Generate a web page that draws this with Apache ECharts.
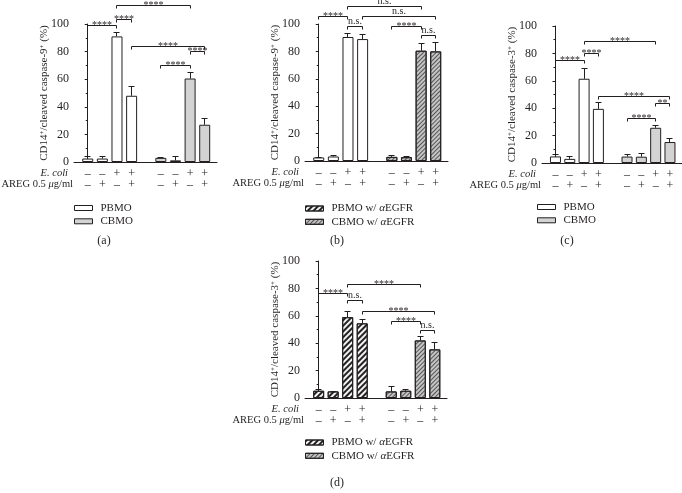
<!DOCTYPE html>
<html><head><meta charset="utf-8">
<script src="https://cdn.jsdelivr.net/npm/echarts@6/dist/echarts.min.js"></script>
<style>html,body{margin:0;padding:0;background:#fff}#c{width:682px;height:493px}</style>
</head><body><div id="c"></div>
<script>
// ---- tick labels under the x axis (9 slots, slot 4 is the gap between groups)
const ecoliSigns = ['–','–','+','+','','–','–','+','+'];
const aregSigns  = ['–','+','–','+','','–','+','–','+'];
const yTicks = [0, 20, 40, 60, 80, 100];
const barSlots = [0, 1, 2, 3, 5, 6, 7, 8];

// ---- panel (a): caspase-9, PBMO / CBMO
const aPBMO    = [2.5, 2.5, 91, 48];
const aPBMOErr = [1.8, 1.3, 3, 7];
const aCBMO    = [3, 1.2, 60.5, 27];
const aCBMOErr = [0.4, 2.5, 4.5, 4.5];
const aBrackets = [[0,2,98.8,'****'],[2,3,103.6,'****'],[2,6,113.3,'****'],[3,7,83.6,'****'],[4,6,69.8,'****'],[6,7,80,'****']];

// ---- panel (b): caspase-9, w/ anti-EGFR
const bPBMO    = [2.6, 3.3, 90.5, 89];
const bPBMOErr = [0.3, 0.4, 2.5, 3.5];
const bCBMO    = [3, 2.8, 80.5, 80];
const bCBMOErr = [0.8, 0.2, 5, 6.5];
const bBrackets = [[0,2,105.3,'****'],[2,6,113,'n.s.'],[2,3,98.5,'n.s.'],[3,7,105.3,'n.s.'],[4,6,98.5,'****'],[6,7,91.3,'n.s.']];

// ---- panel (c): caspase-3, PBMO / CBMO
const cPBMO    = [4.8, 3, 61.5, 39.5];
const cPBMOErr = [1.4, 1.4, 7.5, 5];
const cCBMO    = [4.7, 4.6, 25.7, 15.3];
const cCBMOErr = [1.4, 2.2, 2, 2.4];
const cBrackets = [[0,2,74.5,'****'],[2,3,80,'****'],[2,6,88.8,'****'],[3,7,48.5,'****'],[4,6,32.8,'****'],[6,7,43.2,'**']];

// ---- panel (d): caspase-3, w/ anti-EGFR
const dPBMO    = [5.3, 4.8, 59, 54.5];
const dPBMOErr = [0.7, 0.3, 4.3, 3];
const dCBMO    = [4.8, 5.3, 42, 35.5];
const dCBMOErr = [3.4, 0.7, 3, 5];
const dBrackets = [[0,2,76,'****'],[2,6,83,'****'],[2,3,71,'n.s.'],[3,7,62.8,'****'],[4,6,55.5,'****'],[6,7,49.3,'n.s.']];

const FONT = 'Liberation Serif';
const INK = '#231f20';

const whiteStyle = {color:'#ffffff', borderColor:INK, borderWidth:1};
const grayStyle  = {color:'#d3d3d3', borderColor:INK, borderWidth:1};
const hatchDark  = {color:'#f2f2f2', borderColor:INK, borderWidth:1,
  decal:{symbol:'rect', symbolSize:1, dashArrayX:[1,0], dashArrayY:[1.4,1.6], rotation:-Math.PI/4, color:'#222'}};
const hatchLight = {color:'#c4c4c4', borderColor:INK, borderWidth:1,
  decal:{symbol:'rect', symbolSize:1, dashArrayX:[1,0], dashArrayY:[1,2], rotation:-Math.PI/4, color:'#555'}};

const casp9Name = 'CD14{s|+}/cleaved caspase-9{s|+} (%)';
const casp3Name = 'CD14{s|+}/cleaved caspase-3{s|+} (%)';

const panels = [
  {p:aPBMO, pe:aPBMOErr, c:aCBMO, ce:aCBMOErr, br:aBrackets, yname:casp9Name,
   names:['PBMO','CBMO'], pStyle:whiteStyle, cStyle:grayStyle, legStyles:[whiteStyle, grayStyle],
   grid:{left:74, top:24, width:143, height:138}, legend:{left:74, top:201.5}, cap:{x:104, y:241, t:'(a)'}},
  {p:bPBMO, pe:bPBMOErr, c:bCBMO, ce:bCBMOErr, br:bBrackets, yname:casp9Name,
   names:['PBMO w/ αEGFR','CBMO w/ αEGFR'], pStyle:whiteStyle, cStyle:hatchLight, legStyles:[hatchDark, hatchLight],
   grid:{left:305, top:24, width:143, height:137}, legend:{left:305, top:202}, cap:{x:337, y:241, t:'(b)'}},
  {p:cPBMO, pe:cPBMOErr, c:cCBMO, ce:cCBMOErr, br:cBrackets, yname:casp3Name,
   names:['PBMO','CBMO'], pStyle:whiteStyle, cStyle:grayStyle, legStyles:[whiteStyle, grayStyle],
   grid:{left:542, top:26, width:140, height:137}, legend:{left:537, top:200.5}, cap:{x:567, y:241, t:'(c)'}},
  {p:dPBMO, pe:dPBMOErr, c:dCBMO, ce:dCBMOErr, br:dBrackets, yname:casp3Name,
   names:['PBMO w/ αEGFR','CBMO w/ αEGFR'], pStyle:hatchDark, cStyle:hatchLight, legStyles:[hatchDark, hatchLight],
   grid:{left:305, top:261, width:142, height:137}, legend:{left:305, top:436}, cap:{x:337, y:483, t:'(d)'}}
];

const crisp = v => Math.round(v - 0.5) + 0.5;

const grids = [], xAxes = [], yAxes = [], series = [], legends = [], graphics = [];

panels.forEach((P, k) => {
  grids.push(Object.assign({containLabel:false, outerBoundsMode:'none'}, P.grid));
  xAxes.push({
    gridIndex:k, type:'value', min:-0.94, max:8.84,
    axisLine:{show:true, onZero:false, lineStyle:{color:INK, width:1}},
    axisTick:{show:false}, splitLine:{show:false},
    axisLabel:{customValues:barSlots, formatter:v => ecoliSigns[v] + '\n' + aregSigns[v],
      fontFamily:FONT, fontSize:12, lineHeight:11.5, color:INK, margin:6},
    name:'{ie|E. coli}\n{n|AREG 0.5 }{i|μ}{n|g/ml}', nameLocation:'start', nameGap:1,
    nameMoveOverlap:false,
    nameTextStyle:{align:'right', verticalAlign:'top', padding:[5,0,0,0], fontFamily:FONT, fontSize:10.5, color:INK,
      rich:{ie:{fontStyle:'italic', fontFamily:FONT, fontSize:10.5, lineHeight:11.5, padding:[0,5,0,0]},
            i:{fontStyle:'italic', fontFamily:FONT, fontSize:10.5, lineHeight:11.5},
            n:{fontFamily:FONT, fontSize:10.5, lineHeight:11.5}}}
  });
  yAxes.push({
    gridIndex:k, type:'value', min:yTicks[0], max:yTicks[yTicks.length-1], interval:yTicks[1]-yTicks[0],
    axisLine:{show:true, lineStyle:{color:INK, width:1}},
    axisTick:{show:true, length:3, lineStyle:{color:INK}},
    minorTick:{show:true, splitNumber:2, length:2, lineStyle:{color:INK}},
    splitLine:{show:false},
    axisLabel:{fontFamily:FONT, fontSize:12, color:INK, margin:5},
    name:P.yname, nameLocation:'middle', nameGap:24, nameRotate:90, nameMoveOverlap:false,
    nameTextStyle:{fontFamily:FONT, fontSize:11, color:INK,
      rich:{s:{fontFamily:FONT, fontSize:7, verticalAlign:'top', lineHeight:8}}}
  });
  series.push({
    type:'bar', name:P.names[0], xAxisIndex:k, yAxisIndex:k, barWidth:11, barGap:'-100%',
    data:P.p.map((v,i) => [barSlots[i], v]), itemStyle:P.pStyle, silent:true
  });
  series.push({
    type:'bar', name:P.names[1], xAxisIndex:k, yAxisIndex:k, barWidth:11, barGap:'-100%',
    data:P.c.map((v,i) => [barSlots[i+4], v]), itemStyle:P.cStyle, silent:true
  });
  const errData = P.p.map((v,i) => [barSlots[i], v, P.pe[i]])
    .concat(P.c.map((v,i) => [barSlots[i+4], v, P.ce[i]]));
  series.push({
    type:'custom', name:'err'+k, xAxisIndex:k, yAxisIndex:k, clip:false, silent:true, z:5,
    encode:{x:0, y:[1,2]}, data:errData,
    renderItem:(params, api) => {
      const x = api.value(0), m = api.value(1), e = api.value(2);
      const a = api.coord([x, m]), b = api.coord([x, m + e]);
      const cx = crisp(a[0]), yt = crisp(b[1]);
      return {type:'group', children:[
        {type:'line', shape:{x1:cx, y1:a[1], x2:cx, y2:yt}, style:{stroke:INK, lineWidth:1}},
        {type:'line', shape:{x1:cx-3, y1:yt, x2:cx+3, y2:yt}, style:{stroke:INK, lineWidth:1}}
      ]};
    }
  });
  const br = P.br;
  series.push({
    type:'custom', name:'br'+k, xAxisIndex:k, yAxisIndex:k, clip:false, silent:true, z:6,
    encode:{x:[0,1], y:2}, data:br.map(b => [barSlots[b[0]], barSlots[b[1]], b[2]]),
    renderItem:(params, api) => {
      const a = api.coord([api.value(0), api.value(2)]);
      const b = api.coord([api.value(1), api.value(2)]);
      const yy = crisp(a[1]), x1 = crisp(a[0]), x2 = crisp(b[0]);
      const label = br[params.dataIndex][3];
      const star = label.indexOf('*') >= 0;
      return {type:'group', children:[
        {type:'polyline', shape:{points:[[x1,yy+3],[x1,yy],[x2,yy],[x2,yy+3]]}, style:{stroke:INK, lineWidth:1, fill:null}},
        {type:'text', x:(x1+x2)/2, y: yy - 0.5,
         style:{text:label, font:'10px "' + FONT + '"', fill:INK, align:'center',
                verticalAlign: star ? 'middle' : 'bottom'}}
      ]};
    }
  });
  legends.push({
    orient:'vertical', left:P.legend.left, top:P.legend.top, padding:0, itemGap:0.3,
    itemWidth:18, itemHeight:5, icon:'rect', selectedMode:false,
    data:P.names.map((n,i) => ({name:n, itemStyle:P.legStyles[i]})),
    formatter:n => n.replace('α', '{i|α}'),
    textStyle:{fontFamily:FONT, fontSize:11, color:INK, lineHeight:13, padding:[0,0,0,3],
      rich:{i:{fontStyle:'italic', fontFamily:FONT, fontSize:11}}}
  });
  graphics.push({type:'text', x:P.cap.x, y:P.cap.y,
    style:{text:P.cap.t, font:'12px "' + FONT + '"', fill:INK, align:'center', verticalAlign:'middle'}});
});

const chart = echarts.init(document.getElementById('c'), null, {renderer:'canvas'});
chart.setOption({
  animation:false, backgroundColor:'#fff',
  grid:grids, xAxis:xAxes, yAxis:yAxes, series:series, legend:legends, graphic:graphics
});
</script>
</body></html>
